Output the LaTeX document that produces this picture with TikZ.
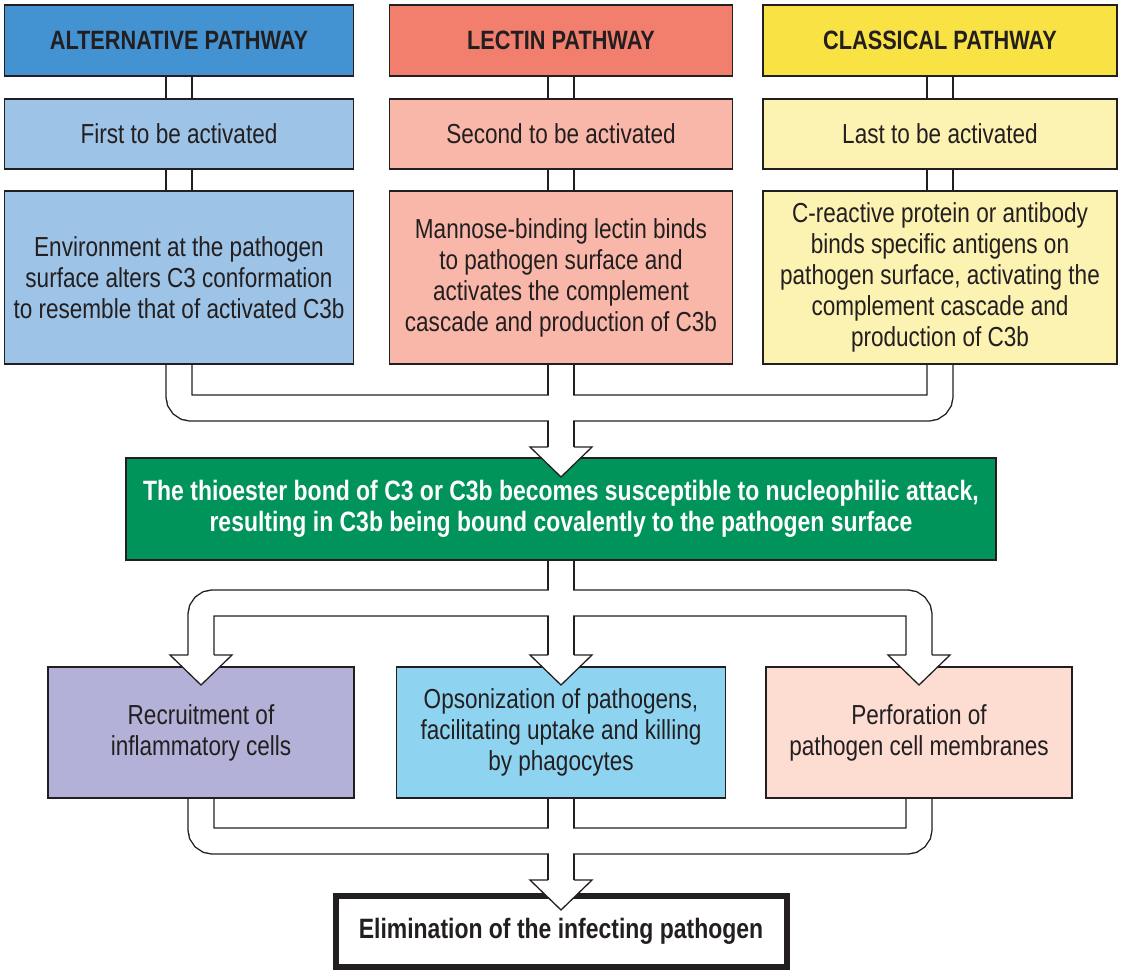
\documentclass[tikz,border=0pt]{standalone}
\usepackage{fontspec}
\setmainfont{Liberation Sans}[FakeStretch=0.82]
\usetikzlibrary{calc,backgrounds}

\definecolor{linecol}{HTML}{231F20}
\definecolor{altdark}{HTML}{4393D3}
\definecolor{altlight}{HTML}{9DC3E6}
\definecolor{lecdark}{HTML}{F27F6E}
\definecolor{leclight}{HTML}{F9B7A9}
\definecolor{cladark}{HTML}{F9E243}
\definecolor{clalight}{HTML}{FCF2B1}
\definecolor{thiogreen}{HTML}{00935A}
\definecolor{recviolet}{HTML}{B3B1D7}
\definecolor{opsblue}{HTML}{8ED4F1}
\definecolor{perfpink}{HTML}{FDDDD2}

\tikzset{
  box/.style={draw=linecol, line width=1.3pt, align=center, inner sep=0pt,
    text=linecol, font=\fontsize{27.5}{31}\selectfont},
  hdr/.style={box, minimum height=71pt, font=\bfseries\fontsize{26.5}{30}\selectfont},
  order/.style={box, minimum height=70pt},
  detail/.style={box, minimum height=173pt},
  effect/.style={box, minimum height=131pt},
}

\begin{document}
\begin{tikzpicture}[x=1pt, y=-1pt]
    \useasboundingbox (0,0) rectangle (1122,975);

    %% the three pathways
    \node[hdr, fill=altdark, minimum width=349pt] (alt1) at (179,40.5) {ALTERNATIVE PATHWAY};
    \node[hdr, fill=lecdark, minimum width=343pt] (lec1) at (561,40.5) {LECTIN PATHWAY};
    \node[hdr, fill=cladark, minimum width=354pt] (cla1) at (940,40.5) {CLASSICAL PATHWAY};

    \node[order, fill=altlight, minimum width=349pt] (alt2) at (179,134) {First to be activated};
    \node[order, fill=leclight, minimum width=343pt] (lec2) at (561,134) {Second to be activated};
    \node[order, fill=clalight, minimum width=354pt] (cla2) at (940,134) {Last to be activated};

    \node[detail, fill=altlight, minimum width=349pt] (alt3) at (179,277.5)
        {Environment at the pathogen\\surface alters C3 conformation\\to resemble that of activated C3b};
    \node[detail, fill=leclight, minimum width=343pt] (lec3) at (561,277.5)
        {Mannose-binding lectin binds\\to pathogen surface and\\activates the complement\\cascade and production of C3b};
    \node[detail, fill=clalight, minimum width=354pt] (cla3) at (940,277.5)
        {C-reactive protein or antibody\\binds specific antigens on\\pathogen surface, activating the\\complement cascade and\\production of C3b};

    \node[box, fill=thiogreen, text=white, minimum width=870pt, minimum height=102pt,
        font=\bfseries\fontsize{28}{31}\selectfont] (thio) at (561,509)
        {The thioester bond of C3 or C3b becomes susceptible to nucleophilic attack,\\resulting in C3b being bound covalently to the pathogen surface};

    %% what C3b leads to
    \node[effect, fill=recviolet, minimum width=306pt] (rec) at (201,732.5) {Recruitment of\\inflammatory cells};
    \node[effect, fill=opsblue, minimum width=329pt] (ops) at (561,732.5)
        {Opsonization of pathogens,\\facilitating uptake and killing\\by phagocytes};
    \node[effect, fill=perfpink, minimum width=306pt] (perf) at (919,732.5) {Perforation of\\pathogen cell membranes};

    \node[box, line width=6pt, fill=white, minimum width=451pt, minimum height=71pt,
        font=\bfseries\fontsize{28}{30}\selectfont] (elim) at (561,931.5)
        {Elimination of the infecting pathogen};

    \coordinate (jtop) at (561,408);
    \coordinate (atop) at (561,447);
    \coordinate (jmid) at (561,603);
    \coordinate (aL) at (201,655);
    \coordinate (aM) at (561,655);
    \coordinate (aR) at (919,655);
    \coordinate (jbot) at (561,841);
    \coordinate (aF) at (561,880);

    %% pipes: black outline first, white inside after
    \begin{scope}[on background layer]
    \foreach \w/\c in {27.4/linecol, 24.6/white}{
    \begin{scope}[line width=\w pt, color=\c, rounded corners=12pt]
    \draw (alt1.south) -- (alt2.north);
    \draw (alt2.south) -- (alt3.north);
    \draw (lec1.south) -- (lec2.north);
    \draw (lec2.south) -- (lec3.north);
    \draw (cla1.south) -- (cla2.north);
    \draw (cla2.south) -- (cla3.north);
    \draw (alt3.south) |- (jtop);
    \draw (cla3.south) |- (jtop);
    \draw (lec3.south) -- (atop);
    \draw (thio.south) -- (aM);
    \draw (jmid) -| (aL);
    \draw (jmid) -| (aR);
    \draw (rec.south) |- (jbot);
    \draw (perf.south) |- (jbot);
    \draw (ops.south) -- (aF);
    \end{scope}
    }
    \end{scope}

    %% open arrow heads
    \foreach \a in {atop,aL,aM,aR,aF}{
    \filldraw[fill=white, draw=linecol, line width=1.3pt]
        ($(\a)+(-13,0)$) -- ($(\a)+(-31,0)$) -- ($(\a)+(0,30)$) -- ($(\a)+(31,0)$) -- ($(\a)+(13,0)$);
    }
\end{tikzpicture}
\end{document}
